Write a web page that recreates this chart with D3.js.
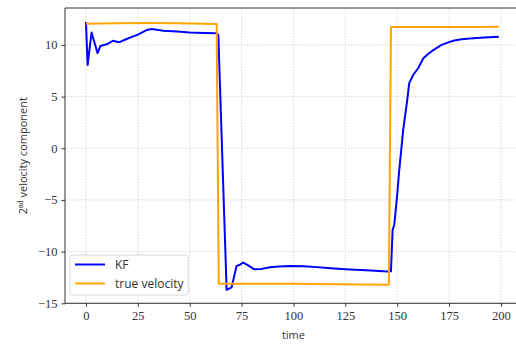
<!DOCTYPE html>
<html>
<head>
<meta charset="utf-8">
<script src="https://cdn.jsdelivr.net/npm/d3@7"></script>
<style>
  html, body { margin: 0; padding: 0; background: #fff; overflow: hidden; }
  svg { display: block; overflow: hidden; }
</style>
</head>
<body>
<script>
// KF estimate of 2nd velocity component
const kfTime = [0, 0.8, 2.7, 5.6, 7, 10, 12.9, 15.9, 18.8, 21.2, 25, 29.2, 31.7, 37.3, 44, 50, 57, 63, 63.8,
  67.8, 70.2, 72.6, 73.9, 75.8, 78, 81, 84.7, 88.7, 93, 98.3, 105, 111.2, 118, 125, 135, 145.4, 147,
  147.8, 148.6, 150, 151, 152.9, 154.8, 155.8, 157.7, 160.1, 162.6, 165, 167.4, 171.4, 174, 177, 181, 185, 192, 199];
const kfValue = [12.2, 8.05, 11.2, 9.2, 9.9, 10.06, 10.4, 10.25, 10.5, 10.7, 11.0, 11.44, 11.54, 11.37, 11.3, 11.2, 11.15, 11.12, 10.96,
  -13.7, -13.45, -11.38, -11.3, -11.06, -11.3, -11.7, -11.67, -11.51, -11.45, -11.38, -11.42, -11.5, -11.6, -11.7, -11.8, -11.93, -11.9,
  -7.9, -7.4, -4.5, -2.1, 1.77, 4.6, 6.3, 7.09, 7.74, 8.7, 9.15, 9.5, 10.0, 10.2, 10.4, 10.55, 10.63, 10.72, 10.8];

// true velocity
const trueTime = [0, 15, 30, 45, 63, 64, 80, 100, 120, 146, 147, 160, 175, 190, 199];
const trueValue = [12.05, 12.1, 12.12, 12.1, 12.03, -13.1, -13.12, -13.1, -13.15, -13.2, 11.72, 11.72, 11.73, 11.72, 11.75];

const xTicks = [0, 25, 50, 75, 100, 125, 150, 175, 200];
const yTicks = [-15, -10, -5, 0, 5, 10];
const legendLabels = ["KF", "true velocity"];
const colors = ["#0000ff", "#ffa500"];

const W = 516, H = 345;
const svg = d3.select("body").append("svg")
  .attr("width", W)
  .attr("height", H);

const x = d3.scaleLinear().domain([-10.1, 209]).range([65, 519.6]);
const y = d3.scaleLinear().domain([-15, 13.57]).range([303.3, 8]);

const grid = svg.append("g");
grid.selectAll("line.gx").data(xTicks).enter().append("line")
  .attr("x1", d => x(d)).attr("x2", d => x(d))
  .attr("y1", y.range()[1]).attr("y2", y.range()[0])
  .attr("stroke", "#c8c8c8").attr("stroke-width", 0.8).attr("stroke-dasharray", "1.2,1.6");
grid.selectAll("line.gy").data(yTicks).enter().append("line")
  .attr("x1", x.range()[0]).attr("x2", W + 10)
  .attr("y1", d => y(d)).attr("y2", d => y(d))
  .attr("stroke", "#c8c8c8").attr("stroke-width", 0.8).attr("stroke-dasharray", "1.2,1.6");

const line = d3.line().x(d => x(d[0])).y(d => y(d[1]));
const kf = kfTime.map((t, i) => [t, kfValue[i]]);
const tr = trueTime.map((t, i) => [t, trueValue[i]]);

svg.append("path").attr("d", line(kf))
  .attr("fill", "none").attr("stroke", colors[0]).attr("stroke-width", 2).attr("stroke-linejoin", "round");
svg.append("path").attr("d", line(tr))
  .attr("fill", "none").attr("stroke", colors[1]).attr("stroke-width", 2).attr("stroke-linejoin", "round");

// spines: left, top, bottom (the right one is cut off in the picture)
const x0 = x.range()[0], yb = y.range()[0], yt = y.range()[1];
[[x0, yt, x0, yb], [x0, yt, W + 10, yt], [x0, yb, W + 10, yb]].forEach(s => {
  svg.append("line")
    .attr("x1", s[0]).attr("y1", s[1]).attr("x2", s[2]).attr("y2", s[3])
    .attr("stroke", "#333").attr("stroke-width", 1);
});

const fmt = d => d < 0 ? "\u2212" + Math.abs(d) : String(d);

const xAxis = svg.append("g")
  .attr("transform", `translate(0,${yb})`)
  .call(d3.axisBottom(x).tickValues(xTicks).tickFormat(fmt).tickSize(3.5).tickPadding(4));
const yAxis = svg.append("g")
  .attr("transform", `translate(${x0},0)`)
  .call(d3.axisLeft(y).tickValues(yTicks).tickFormat(fmt).tickSize(3.5).tickPadding(4));
[xAxis, yAxis].forEach(a => {
  a.select(".domain").remove();
  a.selectAll(".tick line").attr("stroke", "#333");
  a.selectAll(".tick text")
    .attr("fill", "#333")
    .style("font-family", "'Liberation Serif', serif")
    .style("font-size", "12.5px");
});

svg.append("text")
  .attr("x", x(100)).attr("y", 339)
  .attr("text-anchor", "middle")
  .style("font-family", "'Open Sans', sans-serif").style("font-size", "11px")
  .attr("fill", "#333")
  .text("time");

const yl = svg.append("text")
  .attr("transform", `translate(27,${(yb + yt) / 2}) rotate(-90)`)
  .attr("text-anchor", "middle")
  .style("font-family", "'Open Sans', sans-serif").style("font-size", "11px")
  .attr("fill", "#333");
yl.append("tspan").text("2");
yl.append("tspan").attr("dy", -4).style("font-size", "7.5px").style("font-family", "'Liberation Serif', serif").text("nd");
yl.append("tspan").attr("dy", 4).text(" velocity component");

// legend
const lg = svg.append("g").attr("transform", "translate(70,255)");
lg.append("rect")
  .attr("width", 118).attr("height", 40).attr("rx", 3)
  .attr("fill", "#fff").attr("fill-opacity", 0.85)
  .attr("stroke", "#d8d8d8").attr("stroke-width", 1);
legendLabels.forEach((lab, i) => {
  const gy = 9.5 + i * 19;
  lg.append("line")
    .attr("x1", 5).attr("x2", 35).attr("y1", gy).attr("y2", gy)
    .attr("stroke", colors[i]).attr("stroke-width", 2);
  lg.append("text")
    .attr("x", 45).attr("y", gy + 4.5)
    .style("font-family", "'Open Sans', sans-serif").style("font-size", "12px")
    .attr("fill", "#333")
    .text(lab);
});
</script>
</body>
</html>
